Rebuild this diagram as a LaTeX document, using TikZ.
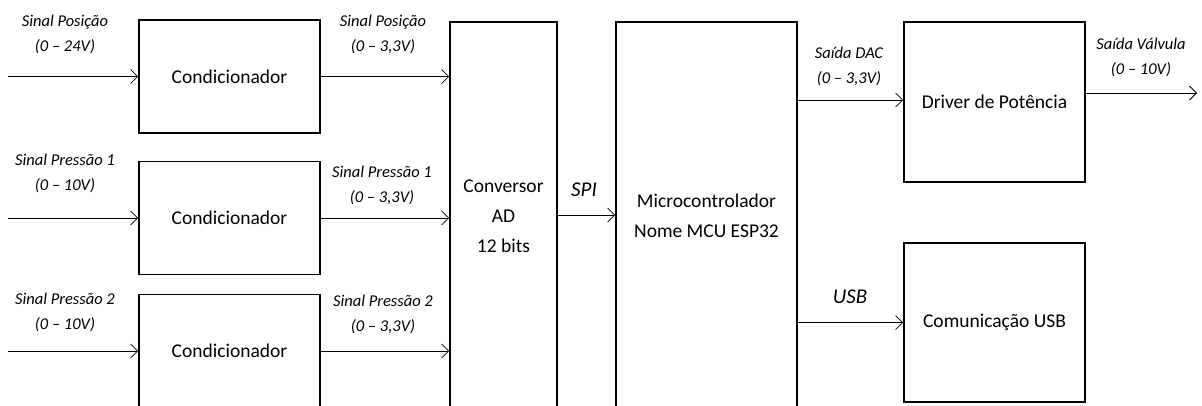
\documentclass[tikz,border=0pt]{standalone}
\usepackage{fontspec}
\setmainfont{Carlito}
\usetikzlibrary{arrows.meta}
\begin{document}
\begin{tikzpicture}[x=1pt,y=-1pt,
  box/.style={draw,line width=1.6pt,rectangle,inner sep=0pt,font=\fontsize{19.5}{30}\selectfont,align=center},
  conn/.style={line width=0.8pt,-{Straight Barb[length=7pt,width=14pt,line width=0.8pt]}},
  lbl/.style={font=\itshape\fontsize{16.5}{25}\selectfont,align=center,inner sep=0pt},
  big/.style={font=\itshape\fontsize{21}{24}\selectfont,inner sep=0pt}]
\useasboundingbox (0,0) rectangle (1202,405);
\clip (0,0) rectangle (1202,405);
\fill[white] (0,0) rectangle (1202,405);
% blocks
\node[box,minimum width=181pt,minimum height=113pt] (c1) at (229.5,76.5) {Condicionador};
\node[box,minimum width=181pt,minimum height=113pt] (c2) at (229.5,218) {Condicionador};
\node[box,minimum width=181pt,minimum height=113pt] (c3) at (229.5,351) {Condicionador};
\node[box,minimum width=107pt,minimum height=388pt] (ad) at (503.5,216) {Conversor\\AD\\12 bits};
\node[box,minimum width=181pt,minimum height=388pt] (mcu) at (706.5,216) {Microcontrolador\\Nome MCU ESP32};
\node[box,minimum width=181pt,minimum height=160pt] (drv) at (994.5,102) {Driver de Potência};
\node[box,minimum width=181pt,minimum height=159pt] (usb) at (994.5,322.5) {Comunicação USB};
% free ends
\coordinate (i1) at (8,76.5);
\coordinate (i2) at (8,218);
\coordinate (i3) at (8,351);
\coordinate (o1) at (1197,93);
% connectors
\draw[conn] (i1) -- (c1.west);
\draw[conn] (i2) -- (c2.west);
\draw[conn] (i3) -- (c3.west);
\draw[conn] (c1.east) -- (ad.west |- c1.east);
\draw[conn] (c2.east) -- (ad.west |- c2.east);
\draw[conn] (c3.east) -- (ad.west |- c3.east);
\draw[conn] (ad.east |- 0,215) -- (mcu.west |- 0,215);
\draw[conn] (mcu.east |- 0,100) -- (drv.west |- 0,100);
\draw[conn] (mcu.east |- usb.west) -- (usb.west);
\draw[conn] (drv.east |- o1) -- (o1);
% labels
\node[lbl] (l1) at (65,34) {Sinal Posição\\(0 – 24V)};
\node[lbl] (l2) at (383,34) {Sinal Posição\\(0 – 3,3V)};
\node[lbl] (l3) at (65,173) {Sinal Pressão 1\\(0 – 10V)};
\node[lbl] (l4) at (382,185) {Sinal Pressão 1\\(0 – 3,3V)};
\node[lbl] (l5) at (65,312) {Sinal Pressão 2\\(0 – 10V)};
\node[lbl] (l6) at (383,314) {Sinal Pressão 2\\(0 – 3,3V)};
\node[big] (spi) at (584,190) {SPI};
\node[lbl] (l7) at (849,66) {Saída DAC\\(0 – 3,3V)};
\node[lbl] (l8) at (1141,57) {Saída Válvula\\(0 – 10V)};
\node[big] (usbl) at (850,297) {USB};
\end{tikzpicture}
\end{document}
